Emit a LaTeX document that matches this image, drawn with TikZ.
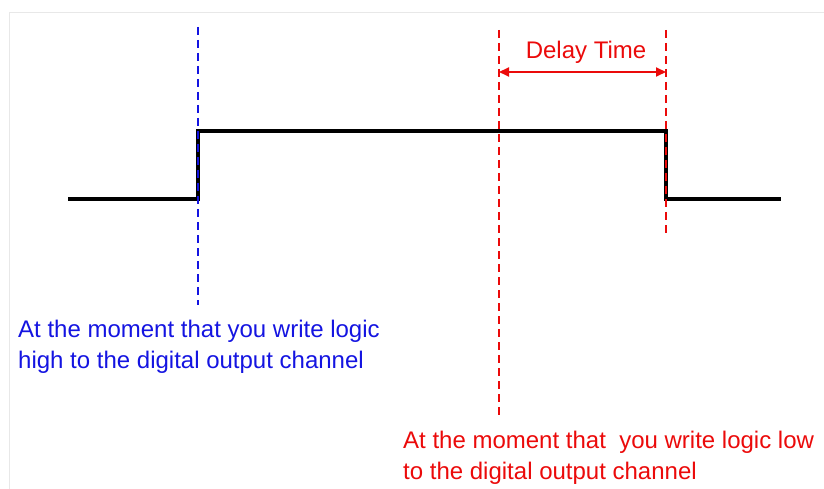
\documentclass[tikz,border=0pt]{standalone}
\usepackage{fontspec}
\setmainfont{Liberation Sans}
\usetikzlibrary{arrows.meta}
\definecolor{myblue}{RGB}{20,20,225}
\definecolor{myred}{RGB}{235,10,10}
\definecolor{frame}{RGB}{232,232,232}
\begin{document}
\begin{tikzpicture}[x=1pt,y=-1pt,
  sig/.style={line width=3.8pt,black,line join=miter},
  guide/.style={line width=2.4pt,dash pattern=on 8pt off 5pt},
  lbl/.style={font=\fontsize{24}{31}\selectfont,align=left,anchor=north west,inner sep=0pt}]
\useasboundingbox (0,0) rectangle (824,489);
\draw[frame,line width=1pt] (9.5,489) -- (9.5,12.5) -- (824,12.5);
% coordinates
\coordinate (s0) at (68,199);
\coordinate (r0) at (198,199);
\coordinate (r1) at (198,131);
\coordinate (f1) at (666,131);
\coordinate (f0) at (666,199);
\coordinate (s1) at (781,199);
% guides
\coordinate (bt) at (198,27);
\coordinate (bb) at (198,305);
\coordinate (rt) at (499,30);
\coordinate (rb) at (499,415);
\coordinate (qt) at (666,30);
\coordinate (qb) at (666,236);
\coordinate (al) at (499,72);
\coordinate (ar) at (666,72);
\draw[sig] (s0) -- (r0) -- (r1) -- (f1) -- (f0) -- (s1);
\draw[guide,myblue] (bt) -- (bb);
\draw[guide,myred] (rt) -- (rb);
\draw[guide,myred] (qt) -- (qb);
\draw[myred,line width=2pt,{Triangle[length=10pt,width=9pt]}-{Triangle[length=10pt,width=9pt]}] (al) -- (ar);
\node[lbl,anchor=center,text=myred] (dt) at (586,52) {Delay Time};
\node[lbl,text=myblue] (hi) at (18,320) {At the moment that you write logic\\high to the digital output channel};
\node[lbl,text=myred] (lo) at (403,431) {At the moment that\ \ you write logic low\\to the digital output channel};
\end{tikzpicture}
\end{document}
